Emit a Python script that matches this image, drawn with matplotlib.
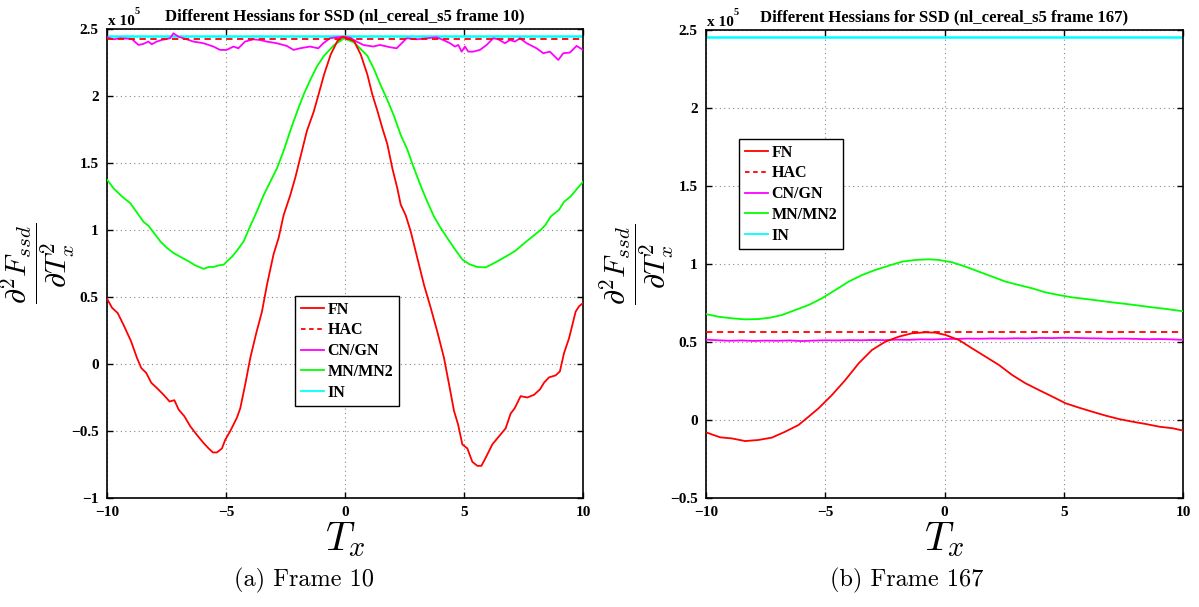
import matplotlib
matplotlib.use("Agg")
import matplotlib.pyplot as plt
from matplotlib.ticker import FixedLocator, FixedFormatter
from matplotlib.lines import Line2D

# ---------------- data (values in units of 1e5) ----------------
# Frame 10
fn10_x = [-10, -9.79, -9.55, -9.3, -8.99, -8.74, -8.56, -8.35, -8.14, -7.9, -7.62, -7.37, -7.17, -6.99,
          -6.75, -6.5, -6.22, -5.94, -5.73, -5.55, -5.38, -5.17, -5.03, -4.82, -4.54, -4.4, -4.19, -3.98,
          -3.73, -3.49, -3.28, -3.0, -2.79, -2.58, -2.3, -2.09, -1.88, -1.6, -1.32, -1.16, -0.88, -0.6,
          -0.32, -0.11, 0.1, 0.38, 0.66, 0.94, 1.15, 1.36, 1.57, 1.78, 1.99, 2.2, 2.34, 2.55, 2.76, 3.04,
          3.32, 3.6, 3.88, 4.16, 4.37, 4.58, 4.75, 4.93, 5.14, 5.35, 5.56, 5.73, 5.91, 6.19, 6.47, 6.75,
          6.96, 7.13, 7.38, 7.66, 7.94, 8.19, 8.36, 8.57, 8.85, 9.03, 9.2, 9.41, 9.69, 9.83, 10.0]
fn10_y = [0.488, 0.42, 0.38, 0.29, 0.17, 0.045, -0.03, -0.067, -0.14, -0.18, -0.23, -0.28, -0.27, -0.34,
          -0.39, -0.465, -0.53, -0.59, -0.63, -0.66, -0.66, -0.63, -0.565, -0.50, -0.40, -0.33, -0.15, 0.045,
          0.23, 0.39, 0.59, 0.82, 0.94, 1.11, 1.26, 1.39, 1.54, 1.74, 1.88, 1.98, 2.16, 2.31,
          2.41, 2.44, 2.43, 2.41, 2.31, 2.16, 2.01, 1.89, 1.76, 1.64, 1.46, 1.31, 1.19, 1.11, 0.99, 0.79,
          0.59, 0.42, 0.24, 0.045, -0.15, -0.35, -0.45, -0.60, -0.63, -0.73, -0.76, -0.76, -0.70, -0.60, -0.54, -0.48,
          -0.37, -0.33, -0.24, -0.25, -0.23, -0.19, -0.14, -0.10, -0.085, -0.055, 0.08, 0.19, 0.39, 0.43, 0.455]

mn10_x = [-10, -9.72, -9.37, -9.02, -8.74, -8.46, -8.25, -7.97, -7.76, -7.48, -7.2, -6.92, -6.57, -6.29,
          -5.94, -5.73, -5.52, -5.31, -5.1, -4.96, -4.75, -4.54, -4.26, -3.98, -3.7, -3.42, -3.14, -2.86,
          -2.58, -2.3, -2.02, -1.74, -1.46, -1.18, -0.88, -0.46, -0.04, 0.38, 0.66, 0.94, 1.22, 1.5, 1.78,
          2.06, 2.34, 2.62, 2.9, 3.18, 3.46, 3.74, 4.02, 4.3, 4.58, 4.93, 5.21, 5.56, 5.91, 6.19, 6.54,
          6.89, 7.17, 7.52, 7.87, 8.22, 8.43, 8.64, 8.99, 9.2, 9.48, 9.76, 10.0]
mn10_y = [1.376, 1.31, 1.25, 1.20, 1.13, 1.06, 1.03, 0.965, 0.915, 0.866, 0.828, 0.80, 0.766, 0.736,
          0.71, 0.724, 0.724, 0.736, 0.741, 0.766, 0.80, 0.846, 0.915, 1.03, 1.14, 1.26, 1.36, 1.46,
          1.59, 1.74, 1.88, 2.01, 2.12, 2.22, 2.30, 2.38, 2.43, 2.40, 2.35, 2.30, 2.20, 2.08, 1.97,
          1.85, 1.71, 1.60, 1.46, 1.33, 1.21, 1.10, 1.015, 0.94, 0.866, 0.78, 0.746, 0.724, 0.721, 0.746, 0.78,
          0.816, 0.846, 0.90, 0.95, 1.00, 1.04, 1.10, 1.15, 1.21, 1.25, 1.31, 1.36]

cn10_x = [-10, -9.73, -9.45, -8.96, -8.68, -8.47, -8.26, -8.12, -7.91, -7.70, -7.35, -7.21, -7.0, -6.65,
          -6.37, -5.95, -5.53, -5.25, -4.97, -4.69, -4.48, -4.20, -3.85, -3.57, -3.29, -2.87, -2.45, -2.16,
          -1.89, -1.47, -1.12, -0.91, -0.63, -0.35, -0.07, 0.21, 0.49, 0.77, 1.19, 1.47, 1.89, 2.17, 2.59,
          3.01, 3.43, 3.85, 4.13, 4.41, 4.62, 4.76, 4.90, 5.04, 5.18, 5.39, 5.67, 5.95, 6.23, 6.44, 6.72,
          6.93, 7.14, 7.35, 7.63, 8.05, 8.33, 8.61, 8.96, 9.17, 9.45, 9.73, 10.0]
cn10_y = [2.438, 2.423, 2.431, 2.426, 2.381, 2.389, 2.406, 2.386, 2.406, 2.418, 2.431, 2.468, 2.443, 2.423,
          2.406, 2.394, 2.369, 2.344, 2.344, 2.369, 2.356, 2.406, 2.423, 2.418, 2.406, 2.394, 2.374, 2.344,
          2.356, 2.369, 2.356, 2.394, 2.431, 2.438, 2.443, 2.436, 2.406, 2.381, 2.369, 2.381, 2.364, 2.356, 2.431,
          2.423, 2.431, 2.438, 2.418, 2.394, 2.369, 2.381, 2.331, 2.369, 2.331, 2.331, 2.344, 2.381, 2.431, 2.423, 2.394,
          2.418, 2.406, 2.431, 2.394, 2.356, 2.319, 2.331, 2.269, 2.319, 2.324, 2.374, 2.344]

hac10 = 2.425
in10 = 2.447

# Frame 167
fn167_x = [-10, -9.41, -8.92, -8.36, -7.80, -7.24, -6.68, -6.12, -5.70, -5.28, -4.72, -4.16, -3.60, -3.04,
           -2.48, -1.92, -1.36, -0.80, -0.38, 0.04, 0.60, 1.16, 1.72, 2.28, 2.84, 3.40, 3.96, 4.52, 5.08,
           5.64, 6.20, 6.76, 7.32, 7.89, 8.45, 9.01, 9.57, 10.0]
fn167_y = [-0.079, -0.111, -0.118, -0.135, -0.128, -0.113, -0.075, -0.032, 0.021, 0.075, 0.160, 0.256, 0.363, 0.449,
           0.502, 0.534, 0.556, 0.562, 0.560, 0.545, 0.513, 0.459, 0.406, 0.353, 0.288, 0.235, 0.192, 0.150, 0.107,
           0.079, 0.053, 0.028, 0.006, -0.011, -0.026, -0.043, -0.053, -0.068]

mn167_x = [-10, -9.48, -8.92, -8.36, -7.80, -7.31, -6.82, -6.26, -5.70, -5.14, -4.58, -4.02, -3.46, -2.90,
           -2.34, -1.78, -1.22, -0.66, -0.24, 0.32, 0.88, 1.44, 2.0, 2.56, 3.12, 3.68, 4.24, 4.80, 5.36,
           5.92, 6.48, 7.04, 7.61, 8.17, 8.73, 9.29, 10.0]
mn167_y = [0.679, 0.662, 0.652, 0.645, 0.647, 0.656, 0.673, 0.705, 0.737, 0.780, 0.833, 0.887, 0.929, 0.962,
           0.989, 1.015, 1.026, 1.030, 1.026, 1.011, 0.983, 0.951, 0.919, 0.887, 0.865, 0.844, 0.818, 0.801, 0.786,
           0.776, 0.765, 0.754, 0.744, 0.733, 0.722, 0.712, 0.697]

cn167_x = [-10, -9.5, -9.0, -8.5, -8.0, -7.5, -7.0, -6.5, -6.0, -5.5, -5.0, -4.5, -4.0, -3.5, -3.0, -2.5,
           -2.0, -1.5, -1.0, -0.5, 0.0, 0.5, 1.0, 1.5, 2.0, 2.5, 3.0, 3.5, 4.0, 4.5, 5.0, 5.5, 6.0, 6.5,
           7.0, 7.5, 8.0, 8.5, 9.0, 9.5, 10.0]
cn167_y = [0.515, 0.511, 0.508, 0.510, 0.507, 0.509, 0.508, 0.510, 0.506, 0.509, 0.511, 0.510, 0.512, 0.511, 0.513, 0.512,
           0.515, 0.514, 0.517, 0.516, 0.519, 0.520, 0.522, 0.521, 0.523, 0.522, 0.524, 0.523, 0.526, 0.525, 0.527, 0.526,
           0.524, 0.523, 0.521, 0.522, 0.520, 0.518, 0.519, 0.517, 0.514]

hac167 = 0.562
in167 = 2.455

labels = ["FN", "HAC", "CN/GN", "MN/MN2", "IN"]
titles = ["Different Hessians for SSD (nl_cereal_s5 frame 10)",
          "Different Hessians for SSD (nl_cereal_s5 frame 167)"]
captions = ["(a) Frame 10", "(b) Frame 167"]
xticks = [-10, -5, 0, 5, 10]
xticklabels = ["\u221210", "\u22125", "0", "5", "10"]
yticks10 = [-1, -0.5, 0, 0.5, 1, 1.5, 2, 2.5]
yticklabels10 = ["\u22121", "\u22120.5", "0", "0.5", "1", "1.5", "2", "2.5"]
yticks167 = [-0.5, 0, 0.5, 1, 1.5, 2, 2.5]
yticklabels167 = ["\u22120.5", "0", "0.5", "1", "1.5", "2", "2.5"]

# ---------------- styling ----------------
plt.rcParams["mathtext.fontset"] = "cm"
serif = "Liberation Serif"

fig = plt.figure(figsize=(11.99, 6.07), dpi=100)
ax1 = fig.add_axes([107/1199, 109/607, 476/1199, 469/607])
ax2 = fig.add_axes([706/1199, 109/607, 477/1199, 468/607])

def draw(ax, fx, fy, hac, cx, cy, mx, my, inv, yt, ytl, ylim, title, legpos):
    lw = 1.3
    ax.plot([-10, 10], [inv, inv], color=(0, 1, 1), lw=1.8, zorder=2)
    ax.plot(mx, my, color=(0, 1, 0), lw=lw, zorder=3)
    ax.plot(cx, cy, color=(1, 0, 1), lw=lw, zorder=3)
    ax.plot([-10, 10], [hac, hac], color=(1, 0, 0), lw=lw, ls=(0, (3.5, 2.5)), zorder=4)
    ax.plot(fx, fy, color=(1, 0, 0), lw=lw, zorder=5)
    ax.set_xlim(-10, 10)
    ax.set_ylim(*ylim)
    ax.xaxis.set_major_locator(FixedLocator(xticks))
    ax.xaxis.set_major_formatter(FixedFormatter(xticklabels))
    ax.yaxis.set_major_locator(FixedLocator(yt))
    ax.yaxis.set_major_formatter(FixedFormatter(ytl))
    ax.tick_params(direction="in", top=True, right=True, length=4, width=1, pad=6)
    for lab in ax.get_xticklabels() + ax.get_yticklabels():
        lab.set_fontfamily(serif)
        lab.set_fontweight("bold")
        lab.set_fontsize(11)
    ax.grid(True, ls=(0, (1, 3)), color="#888888", lw=0.8)
    for sp in ax.spines.values():
        sp.set_linewidth(1.2)
    ax.set_title(title, fontfamily=serif, fontweight="bold", fontsize=12, pad=6)
    ax.text(0.002, 1.008, "x 10", transform=ax.transAxes, ha="left", va="baseline",
            fontfamily=serif, fontweight="bold", fontsize=11)
    ax.text(0.058, 1.031, "5", transform=ax.transAxes, ha="left", va="baseline",
            fontfamily=serif, fontweight="bold", fontsize=7.5)
    ax.set_xlabel(r"$T_x$", fontsize=29, labelpad=0)
    handles = [Line2D([], [], color=(1, 0, 0), lw=lw),
               Line2D([], [], color=(1, 0, 0), lw=lw, ls=(0, (2.5, 2))),
               Line2D([], [], color=(1, 0, 1), lw=lw),
               Line2D([], [], color=(0, 1, 0), lw=lw),
               Line2D([], [], color=(0, 1, 1), lw=lw)]
    leg = ax.legend(handles, labels, loc="upper left", bbox_to_anchor=legpos, borderaxespad=0,
                    prop={"family": serif, "weight": "bold", "size": 11.5},
                    fancybox=False, framealpha=1, edgecolor="black", handlelength=1.45,
                    handletextpad=0.25, labelspacing=0.3, borderpad=0.35)
    leg.get_frame().set_linewidth(1.0)
    ylab = r"$\dfrac{\partial^2 F_{ssd}}{\partial T_x^2}$"
    ax.set_ylabel(ylab, fontsize=21.5)
    ax.yaxis.set_label_coords(-30/476, 0.5)

draw(ax1, fn10_x, fn10_y, hac10, cn10_x, cn10_y, mn10_x, mn10_y, in10,
     yticks10, yticklabels10, (-1, 2.5), titles[0], ((295-107)/476, (498-296)/469))
draw(ax2, fn167_x, fn167_y, hac167, cn167_x, cn167_y, mn167_x, mn167_y, in167,
     yticks167, yticklabels167, (-0.5, 2.5), titles[1], ((739-706)/477, (498-139)/468))

fig.text(304/1199, 1 - 580/607, captions[0], fontfamily="cmr10", fontsize=17.5, ha="center", va="center")
fig.text(907/1199, 1 - 580/607, captions[1], fontfamily="cmr10", fontsize=17.5, ha="center", va="center")

fig.savefig("out.png", dpi=100)
